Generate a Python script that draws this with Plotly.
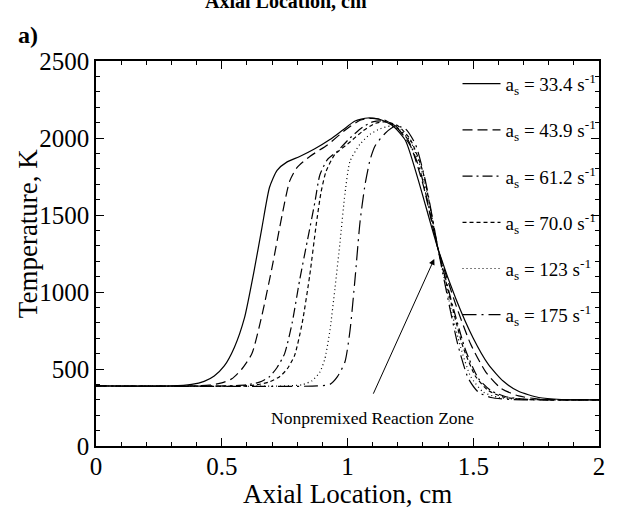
import plotly.graph_objects as go

# strain rates (legend labels)
labels = ["33.4", "43.9", "61.2", "70.0", "123", "175"]

x_334 = [0, 0.30, 0.38, 0.43, 0.47, 0.51, 0.55, 0.59, 0.63, 0.66, 0.69, 0.72, 0.76, 0.81, 0.87, 0.93, 0.98, 1.03, 1.08, 1.13, 1.18, 1.23, 1.28, 1.36, 1.43, 1.50, 1.56, 1.62, 1.68, 1.76, 1.85, 2.0]
t_334 = [390, 390, 400, 420, 455, 520, 640, 830, 1150, 1420, 1680, 1790, 1845, 1880, 1930, 1990, 2050, 2110, 2130, 2120, 2080, 1985, 1735, 1280, 960, 700, 530, 420, 355, 315, 302, 300]

x_439 = [0, 0.38, 0.45, 0.50, 0.54, 0.58, 0.62, 0.66, 0.70, 0.74, 0.77, 0.80, 0.85, 0.92, 0.99, 1.05, 1.10, 1.15, 1.20, 1.25, 1.30, 1.36, 1.43, 1.49, 1.55, 1.61, 1.68, 1.76, 1.85, 2.0]
t_439 = [390, 390, 395, 410, 436, 500, 600, 850, 1160, 1500, 1720, 1810, 1880, 1955, 2050, 2115, 2128, 2115, 2060, 1950, 1700, 1280, 920, 660, 480, 375, 325, 305, 300, 300]

x_612 = [0, 0.52, 0.60, 0.65, 0.69, 0.72, 0.75, 0.78, 0.81, 0.84, 0.87, 0.89, 0.92, 0.96, 1.01, 1.06, 1.10, 1.14, 1.19, 1.24, 1.29, 1.36, 1.42, 1.47, 1.52, 1.57, 1.63, 1.70, 1.80, 2.0]
t_612 = [390, 390, 398, 415, 450, 510, 600, 800, 1080, 1330, 1580, 1760, 1860, 1915, 2000, 2070, 2105, 2110, 2080, 1990, 1780, 1280, 900, 620, 440, 360, 320, 305, 300, 300]

x_700 = [0, 0.57, 0.64, 0.69, 0.73, 0.76, 0.79, 0.82, 0.85, 0.875, 0.895, 0.915, 0.95, 1.00, 1.06, 1.11, 1.15, 1.20, 1.25, 1.30, 1.36, 1.42, 1.46, 1.51, 1.56, 1.62, 1.70, 1.80, 2.0]
t_700 = [390, 390, 398, 417, 450, 500, 590, 800, 1110, 1430, 1650, 1784, 1894, 1960, 2044, 2095, 2105, 2080, 1990, 1780, 1280, 880, 640, 450, 360, 318, 303, 300, 300]

x_123 = [0, 0.75, 0.82, 0.86, 0.89, 0.91, 0.93, 0.95, 0.97, 0.99, 1.01, 1.05, 1.09, 1.13, 1.17, 1.21, 1.25, 1.30, 1.36, 1.41, 1.45, 1.49, 1.54, 1.60, 1.70, 2.0]
t_123 = [390, 390, 398, 425, 480, 566, 750, 1022, 1320, 1640, 1849, 1960, 2025, 2060, 2077, 2050, 1980, 1760, 1280, 900, 640, 450, 350, 315, 302, 300]

x_175 = [0, 0.88, 0.93, 0.96, 0.99, 1.01, 1.03, 1.05, 1.07, 1.09, 1.11, 1.15, 1.19, 1.23, 1.27, 1.31, 1.36, 1.40, 1.44, 1.48, 1.52, 1.57, 1.65, 2.0]
t_175 = [390, 390, 400, 450, 547, 750, 1087, 1458, 1700, 1860, 1950, 2031, 2077, 2060, 1960, 1720, 1280, 950, 650, 440, 350, 315, 302, 300]

xs = [x_334, x_439, x_612, x_700, x_123, x_175]
ts = [t_334, t_439, t_612, t_700, t_123, t_175]
dashes = ["solid", "10px,5px", "10px,4px,2px,4px", "4px,3px", "1px,3px", "14px,5px,2px,5px"]

FONT = "Liberation Serif"
fig = go.Figure()
for i, (lab, x, t, d) in enumerate(zip(labels, xs, ts, dashes)):
    fig.add_trace(go.Scatter(
        x=x, y=t, mode="lines",
        line=dict(color="black", width=1.2, dash=d, shape="spline", smoothing=0.6),
        name=f"a<sub>s</sub> = {lab} s<sup>-1</sup>",
        legendgroup=f"g{i}",
    ))

axis_common = dict(
    showline=True, linecolor="black", linewidth=1.5, mirror="allticks",
    ticks="inside", ticklen=8, tickwidth=1, tickcolor="black",
    showgrid=False, zeroline=False, automargin=False,
    tickfont=dict(family=FONT, size=25, color="black"),
)
fig.update_xaxes(range=[0, 2], dtick=0.5, tick0=0, ticklabelstandoff=-3,
                 minor=dict(dtick=0.1, ticks="inside", ticklen=4, tickcolor="black"),
                 **axis_common)
fig.update_yaxes(range=[0, 2500], dtick=500, tick0=0,
                 minor=dict(dtick=100, ticks="inside", ticklen=4, tickcolor="black"),
                 **axis_common)

# axis titles
fig.add_annotation(x=0.5, y=-0.124, xref="paper", yref="paper", showarrow=False,
                   xanchor="center", yanchor="middle",
                   text="Axial Location, cm", font=dict(family=FONT, size=27, color="black"))
fig.add_annotation(x=-0.135, y=0.553, xref="paper", yref="paper", showarrow=False,
                   xanchor="center", yanchor="middle", textangle=-90,
                   text="Temperature, K", font=dict(family=FONT, size=27, color="black"))

fig.add_annotation(x=1.345, y=1215, ax=1.10, ay=330, xref="x", yref="y", axref="x", ayref="y",
                   showarrow=True, arrowhead=2, arrowsize=1.2, arrowwidth=1, arrowcolor="black", text="")
fig.add_annotation(x=1.10, y=185, xref="x", yref="y", showarrow=False,
                   text="Nonpremixed Reaction Zone", font=dict(family=FONT, size=17.5, color="black"))
fig.add_annotation(x=-0.135, y=1.067, xref="paper", yref="paper", showarrow=False,
                   xanchor="center", yanchor="middle",
                   text="<b>a)</b>", font=dict(family=FONT, size=24, color="black"))
fig.add_annotation(x=0.377, y=1.155, xref="paper", yref="paper", showarrow=False,
                   xanchor="center", yanchor="middle",
                   text="<b>Axial Location, cm</b>", font=dict(family=FONT, size=20, color="black"))

fig.update_layout(
    width=631, height=508,
    margin=dict(l=96, r=32, t=61, b=62),
    paper_bgcolor="white", plot_bgcolor="white",
    showlegend=True,
    legend=dict(x=1.005, y=0.99, xanchor="right", yanchor="top",
                bgcolor="rgba(0,0,0,0)", borderwidth=0,
                traceorder="grouped", tracegroupgap=18.5, itemwidth=38,
                font=dict(family=FONT, size=19, color="black")),
)
fig.write_html("out.html")
